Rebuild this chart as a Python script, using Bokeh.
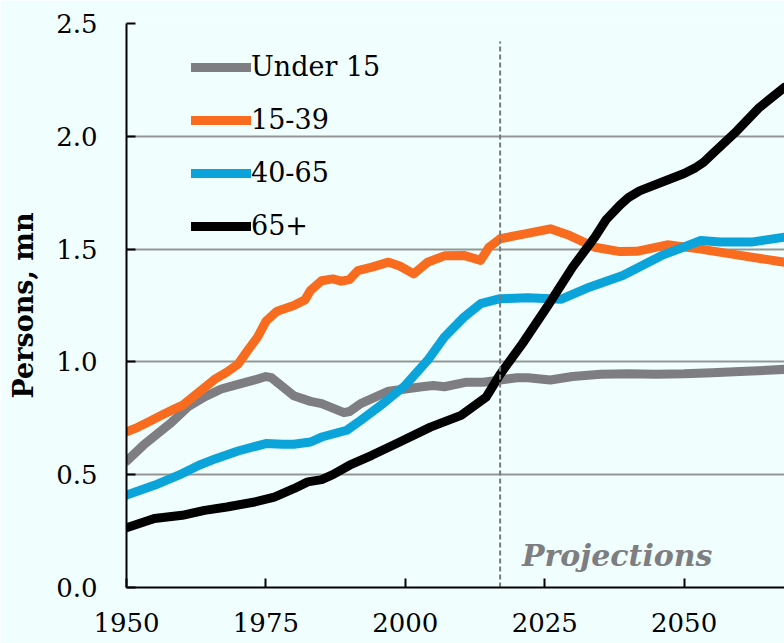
from bokeh.plotting import figure
from bokeh.models import (Range1d, FixedTicker, PrintfTickFormatter, Legend, LegendItem)
from bokeh.core.properties import value
from bokeh.embed import file_html
from bokeh.resources import INLINE

# ---------------- data ----------------
under15_years = [1950, 1953, 1955, 1958, 1961, 1964, 1967, 1970, 1973, 1975, 1976, 1978,
                 1980, 1983, 1985, 1987, 1989, 1990, 1992, 1994, 1997, 2000, 2003, 2005,
                 2007, 2011, 2014, 2017, 2020, 2022, 2026, 2030, 2035, 2040, 2045, 2050,
                 2055, 2060, 2068]
under15_vals = [0.56, 0.63, 0.67, 0.73, 0.80, 0.845, 0.88, 0.90, 0.92, 0.935, 0.93, 0.89,
                0.85, 0.825, 0.815, 0.795, 0.775, 0.78, 0.815, 0.837, 0.87, 0.88, 0.89, 0.895,
                0.89, 0.91, 0.91, 0.92, 0.93, 0.93, 0.92, 0.935, 0.945, 0.948, 0.945, 0.947,
                0.952, 0.957, 0.967]

y15_39_years = [1950, 1952, 1954, 1956, 1958, 1960, 1963, 1966, 1968, 1970, 1972, 1973.5,
                1975, 1977, 1980, 1982, 1983, 1985, 1987, 1988.5, 1990, 1991.5, 1994, 1997,
                1999, 2001.5, 2004, 2007, 2010.5, 2013.5, 2015, 2017, 2021, 2026, 2029.5,
                2034, 2038.5, 2041.5, 2047, 2053, 2060, 2068]
y15_39_vals = [0.69, 0.71, 0.735, 0.76, 0.785, 0.807, 0.866, 0.926, 0.955, 0.99, 1.06, 1.11,
               1.18, 1.225, 1.25, 1.275, 1.317, 1.36, 1.368, 1.358, 1.365, 1.405, 1.42, 1.442,
               1.425, 1.39, 1.442, 1.47, 1.472, 1.45, 1.508, 1.546, 1.565, 1.59, 1.56,
               1.508, 1.489, 1.49, 1.519, 1.50, 1.472, 1.442]

y40_65_years = [1950, 1955, 1960, 1963, 1966, 1970, 1975, 1978, 1980, 1983, 1985, 1989.5,
                1992, 1996, 2000, 2004, 2007, 2010.5, 2013.5, 2017, 2022, 2028, 2033, 2039,
                2046, 2053, 2056.5, 2062, 2068]
y40_65_vals = [0.41, 0.453, 0.505, 0.542, 0.571, 0.605, 0.638, 0.635, 0.635, 0.645, 0.667, 0.697,
               0.741, 0.815, 0.896, 1.007, 1.11, 1.198, 1.258, 1.28, 1.284, 1.278, 1.331, 1.383,
               1.472, 1.538, 1.531, 1.531, 1.553]

y65p_years = [1950, 1955, 1960, 1964, 1968, 1973, 1976.5, 1980, 1982.5, 1985, 1987, 1990,
              1994, 1999, 2004.5, 2010, 2014.5, 2017, 2021, 2025.5, 2030, 2034, 2036, 2038.5,
              2040, 2042, 2047, 2050, 2052, 2053.5, 2055, 2059.5, 2063.5, 2068]
y65p_vals = [0.265, 0.306, 0.320, 0.342, 0.357, 0.379, 0.401, 0.438, 0.468, 0.478, 0.50, 0.542,
             0.586, 0.645, 0.711, 0.763, 0.844, 0.945, 1.081, 1.247, 1.42, 1.553, 1.63, 1.695,
             1.728, 1.758, 1.806, 1.835, 1.86, 1.885, 1.92, 2.025, 2.128, 2.217]

series_names = ["Under 15", "15-39", "40-65", "65+"]
x_ticks = [1950, 1975, 2000, 2025, 2050]
y_ticks = [0.0, 0.5, 1.0, 1.5, 2.0, 2.5]
projection_start = 2017
projection_line_top = 2.42
projection_label = "Projections"
projection_label_x = 2038
projection_label_y = 0.142

# ---------------- styling ----------------
BG = "#F0FEFE"
FONT = "DejaVu Serif"
colors = ["#7E7E82", "#F96B1E", "#0AA3DA", "#000000"]

p = figure(width=784, height=643, output_backend="svg", toolbar_location=None,
           x_range=Range1d(1950, 2068), y_range=Range1d(0, 2.5),
           min_border_left=126, min_border_right=0, min_border_top=23, min_border_bottom=56)
p.background_fill_color = BG
p.border_fill_color = BG
p.outline_line_color = None

p.xgrid.visible = False
p.ygrid.grid_line_color = "#959595"
p.ygrid.grid_line_width = 2
p.ygrid.ticker = FixedTicker(ticks=y_ticks)

for ax in (p.xaxis[0], p.yaxis[0]):
    ax.axis_line_color = "black"
    ax.axis_line_width = 2
    ax.major_tick_line_color = "black"
    ax.major_tick_line_width = 2
    ax.major_tick_in = 9
    ax.major_tick_out = 0
    ax.minor_tick_line_color = None
    ax.major_label_text_font = FONT
    ax.major_label_text_font_size = "26px"
    ax.major_label_text_color = "black"

p.xaxis.ticker = FixedTicker(ticks=x_ticks)
p.xaxis.major_label_standoff = 25
p.yaxis.ticker = FixedTicker(ticks=y_ticks)
p.yaxis.formatter = PrintfTickFormatter(format="%.1f")
p.yaxis.major_label_standoff = 29
p.yaxis.axis_label = "Persons, mn"
p.yaxis.axis_label_text_font = FONT
p.yaxis.axis_label_text_font_style = "bold"
p.yaxis.axis_label_text_font_size = "27px"
p.yaxis.axis_label_text_color = "black"
p.yaxis.axis_label_standoff = 14

all_series = [(under15_years, under15_vals), (y15_39_years, y15_39_vals),
              (y40_65_years, y40_65_vals), (y65p_years, y65p_vals)]
renderers = []
for (xs, ys), c in zip(all_series, colors):
    r = p.line(xs, ys, line_color=c, line_width=9, line_cap="round", line_join="round")
    renderers.append(r)

p.segment(x0=[projection_start], y0=[0], x1=[projection_start], y1=[projection_line_top],
          line_color="#7A7A7A", line_width=2, line_dash="5 3")

p.text(x=[projection_label_x], y=[projection_label_y], text=[projection_label],
       text_font=value(FONT), text_font_style="bold italic", text_font_size="30px",
       text_color="#7E7E82", text_align="center", text_baseline="alphabetic")

legend = Legend(items=[LegendItem(label=n, renderers=[r]) for n, r in zip(series_names, renderers)],
                location=(65, 346), orientation="vertical",
                background_fill_alpha=0, border_line_color=None,
                label_text_font=FONT, label_text_font_size="27px", label_text_color="black",
                glyph_width=60, label_standoff=0, spacing=22, padding=0, margin=0)
p.add_layout(legend, "center")

open("out.html", "w").write(file_html(p, INLINE))
